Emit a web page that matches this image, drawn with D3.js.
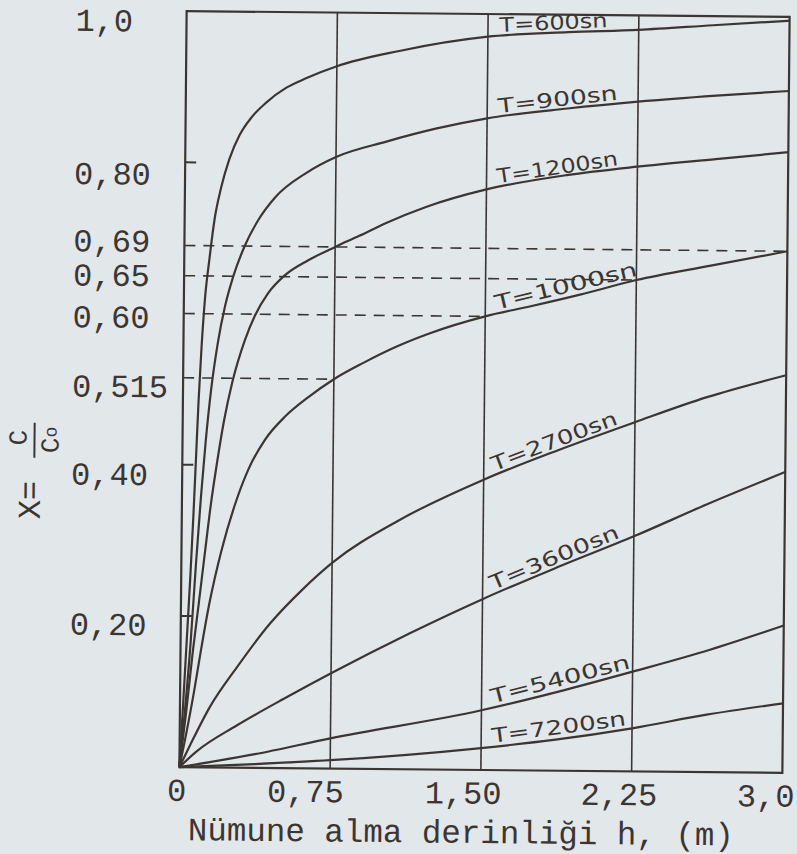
<!DOCTYPE html>
<html>
<head>
<meta charset="utf-8">
<script src="https://cdn.jsdelivr.net/npm/d3@7/dist/d3.min.js"></script>
<style>
  html, body { margin: 0; padding: 0; background: #e2e7e9; }
  svg { display: block; }
</style>
</head>
<body>
<svg id="chart" width="797" height="854"></svg>
<script>
// Sampling depth h (m)
const depthTicks = [0, 0.75, 1.5, 2.25, 3.0];
const depthTickLabels = ["0", "0,75", "1,50", "2,25", "3,0"];
// Concentration ratio X = C/C0
const ratioTicks = [1.0, 0.80, 0.69, 0.65, 0.60, 0.515, 0.40, 0.20];
const ratioTickLabels = ["1,0", "0,80", "0,69", "0,65", "0,60", "0,515", "0,40", "0,20"];
const ratioTickMarks = [0.80, 0.40, 0.20];
// Read-off guides: ratio and the depth where the guide stops
const guideRatios = [0.69, 0.65, 0.60, 0.515];
const guideDepths = [3.0, 2.25, 1.5, 0.75];

// Settling curves (depth h, ratio X) per settling time
const curveLabels = ["T=600sn", "T=900sn", "T=1200sn", "T=1000sn", "T=2700sn", "T=3600sn", "T=5400sn", "T=7200sn"];
const h600  = [0, 0.015, 0.03, 0.045, 0.058, 0.068, 0.078, 0.09, 0.105, 0.125, 0.15, 0.18, 0.22, 0.27, 0.33, 0.40, 0.50, 0.60, 0.75, 1.06, 1.5, 1.9, 2.25, 2.62, 3.0];
const x600  = [0, 0.08, 0.165, 0.25, 0.335, 0.41, 0.485, 0.555, 0.62, 0.672, 0.727, 0.767, 0.805, 0.837, 0.861, 0.880, 0.900, 0.913, 0.929, 0.950, 0.970, 0.977, 0.981, 0.988, 0.995];
const h900  = [0, 0.025, 0.05, 0.073, 0.095, 0.115, 0.14, 0.17, 0.205, 0.245, 0.30, 0.365, 0.45, 0.60, 0.75, 1.0, 1.25, 1.5, 1.9, 2.25, 2.64, 3.0];
const x900  = [0, 0.075, 0.165, 0.27, 0.36, 0.43, 0.50, 0.56, 0.61, 0.65, 0.69, 0.724, 0.755, 0.787, 0.809, 0.830, 0.848, 0.862, 0.876, 0.886, 0.895, 0.902];
const h1200 = [0, 0.03, 0.06, 0.09, 0.118, 0.145, 0.171, 0.205, 0.245, 0.306, 0.354, 0.419, 0.502, 0.617, 0.75, 0.87, 1.0, 1.2, 1.5, 1.9, 2.25, 2.64, 3.0];
const x1200 = [0, 0.07, 0.15, 0.22, 0.287, 0.35, 0.40, 0.458, 0.51, 0.566, 0.598, 0.628, 0.652, 0.672, 0.69, 0.705, 0.722, 0.744, 0.768, 0.788, 0.800, 0.811, 0.821];
const h1000 = [0, 0.035, 0.068, 0.10, 0.14, 0.20, 0.264, 0.328, 0.41, 0.509, 0.624, 0.75, 0.896, 1.061, 1.226, 1.5, 1.726, 1.971, 2.25, 2.62, 3.0];
const x1000 = [0, 0.048, 0.098, 0.152, 0.215, 0.288, 0.348, 0.394, 0.434, 0.465, 0.491, 0.515, 0.537, 0.559, 0.577, 0.60, 0.614, 0.630, 0.65, 0.670, 0.69];
const h2700 = [0, 0.052, 0.149, 0.282, 0.444, 0.606, 0.75, 1.086, 1.5, 1.869, 2.25, 2.607, 3.0];
const x2700 = [0, 0.029, 0.080, 0.133, 0.191, 0.237, 0.272, 0.330, 0.384, 0.424, 0.462, 0.496, 0.526];
const h3600 = [0, 0.085, 0.285, 0.532, 0.75, 1.14, 1.5, 1.87, 2.25, 2.61, 3.0];
const x3600 = [0, 0.021, 0.056, 0.094, 0.126, 0.180, 0.226, 0.269, 0.311, 0.354, 0.398];
const h5400 = [0, 0.375, 0.75, 1.5, 1.873, 2.25, 2.634, 3.0];
const x5400 = [0, 0.018, 0.040, 0.079, 0.104, 0.132, 0.162, 0.195];
const h7200 = [0, 0.375, 0.75, 1.5, 1.87, 2.25, 2.62, 3.0];
const x7200 = [0, 0.005, 0.011, 0.029, 0.041, 0.057, 0.076, 0.092];

const curveDepths = [h600, h900, h1200, h1000, h2700, h3600, h5400, h7200];
const curveRatios = [x600, x900, x1200, x1000, x2700, x3600, x5400, x7200];

const ink = "#3b3633";
const mono = "'Liberation Mono', 'Courier New', monospace";
const hand = "'DejaVu Sans', 'Liberation Sans', sans-serif";

const svg = d3.select("#chart");
svg.append("rect").attr("width", 797).attr("height", 854).attr("fill", "#e2e7e9");

const x = d3.scaleLinear().domain([0, 3]).range([183, 786]);
const y = d3.scaleLinear().domain([0, 1]).range([770, 14]);

// the sheet sits slightly turned on the page
const g = svg.append("g").attr("transform", "rotate(0.55 484.5 392.5)");

// vertical grid at the depth ticks
g.append("g").selectAll("line")
  .data(depthTicks.slice(1, -1))
  .join("line")
  .attr("x1", d => x(d)).attr("x2", d => x(d))
  .attr("y1", y(1)).attr("y2", y(0))
  .attr("stroke", ink).attr("stroke-width", 1.6);

// dashed read-off guides from the ratio axis
g.append("g").selectAll("line")
  .data(guideRatios)
  .join("line")
  .attr("x1", x(0)).attr("x2", (d, i) => x(guideDepths[i]))
  .attr("y1", d => y(d)).attr("y2", d => y(d))
  .attr("stroke", ink).attr("stroke-width", 1.6)
  .attr("stroke-dasharray", "11,8");

// short inward ticks
g.append("g").selectAll("line")
  .data(ratioTickMarks)
  .join("line")
  .attr("x1", x(0)).attr("x2", x(0) + 11)
  .attr("y1", d => y(d)).attr("y2", d => y(d))
  .attr("stroke", ink).attr("stroke-width", 2);

// plot frame
g.append("rect")
  .attr("x", x(0)).attr("y", y(1))
  .attr("width", x(3) - x(0)).attr("height", y(0) - y(1))
  .attr("fill", "none").attr("stroke", ink).attr("stroke-width", 2.2);

// settling curves
const line = d3.line()
  .x(d => x(d[0])).y(d => y(d[1]))
  .curve(d3.curveMonotoneX);

const series = curveLabels.map((label, i) => ({
  label,
  points: curveDepths[i].map((h, j) => [h, curveRatios[i][j]])
}));

g.append("g").selectAll("path")
  .data(series)
  .join("path")
  .attr("d", d => line(d.points))
  .attr("fill", "none")
  .attr("stroke", ink).attr("stroke-width", 2.2)
  .attr("stroke-linejoin", "round");

// curve names written along each curve, just past the 1,50 line
function ratioAt(points, h) {
  for (let k = 0; k < points.length - 1; k++) {
    const [h0, r0] = points[k], [h1, r1] = points[k + 1];
    if (h >= h0 && h <= h1) return r0 + (r1 - r0) * (h - h0) / (h1 - h0);
  }
  return points[points.length - 1][1];
}
const labelWidths = [108, 120, 122, 146, 133, 138, 143, 135];
g.append("g").selectAll("text")
  .data(series)
  .join("text")
  .attr("transform", d => {
    const ax = x(1.56), ay = y(ratioAt(d.points, 1.56));
    const bx = x(2.2), by = y(ratioAt(d.points, 2.2));
    const ang = Math.atan2(by - ay, bx - ax) * 180 / Math.PI;
    return `translate(${ax},${ay}) rotate(${ang})`;
  })
  .attr("dy", -4)
  .attr("font-family", hand).attr("font-size", 20)
  .attr("fill", ink)
  .attr("textLength", (d, i) => labelWidths[i])
  .attr("lengthAdjust", "spacingAndGlyphs")
  .text(d => d.label);

// depth axis labels
const xShift = [-3, -25, -18, -13, -17];
const xAxis = d3.axisBottom(x)
  .tickValues(depthTicks)
  .tickFormat((d, i) => depthTickLabels[i])
  .tickSize(0).tickPadding(11);
g.append("g")
  .attr("transform", `translate(0,${y(0)})`)
  .call(xAxis)
  .call(a => a.select(".domain").remove())
  .selectAll("text")
  .attr("font-family", mono).attr("font-size", 32).attr("fill", ink)
  .attr("dx", (d, i) => xShift[i]);

// ratio axis labels, typed flush left
const yShift = [10, 12, -4, 0, 4, 9, 10, 9];
const yAxis = d3.axisLeft(y)
  .tickValues(ratioTicks)
  .tickFormat((d, i) => ratioTickLabels[i])
  .tickSize(0);
g.append("g")
  .attr("transform", `translate(${x(0)},0)`)
  .call(yAxis)
  .call(a => a.select(".domain").remove())
  .selectAll("text")
  .attr("font-family", mono).attr("font-size", 32).attr("fill", ink)
  .attr("text-anchor", "start")
  .attr("x", 72 - x(0))
  .attr("y", (d, i) => yShift[i]);

// depth axis title
g.append("text")
  .attr("x", 465).attr("y", 843)
  .attr("text-anchor", "middle")
  .attr("font-family", mono).attr("font-size", 32.5).attr("fill", ink)
  .text("Nümune alma derinliği h, (m)");

// ratio axis title: X = C / Co, turned to read upwards
const yt = g.append("g").attr("transform", "translate(41,474) rotate(-90)")
  .attr("font-family", mono).attr("fill", ink);
yt.append("text").attr("x", -40).attr("y", 0).attr("text-anchor", "middle")
  .attr("font-size", 32).text("X");
yt.append("text").attr("x", -21).attr("y", 0).attr("text-anchor", "middle")
  .attr("font-size", 32).text("=");
yt.append("line").attr("x1", 12).attr("x2", 47).attr("y1", -6).attr("y2", -6)
  .attr("stroke", ink).attr("stroke-width", 2);
yt.append("text").attr("x", 32).attr("y", -14).attr("text-anchor", "middle")
  .attr("font-size", 26).text("C");
const den = yt.append("text").attr("x", 30).attr("y", 18).attr("text-anchor", "middle")
  .attr("font-size", 26);
den.append("tspan").text("C");
den.append("tspan").attr("font-size", 18).attr("dy", -2).text("o");
</script>
</body>
</html>
